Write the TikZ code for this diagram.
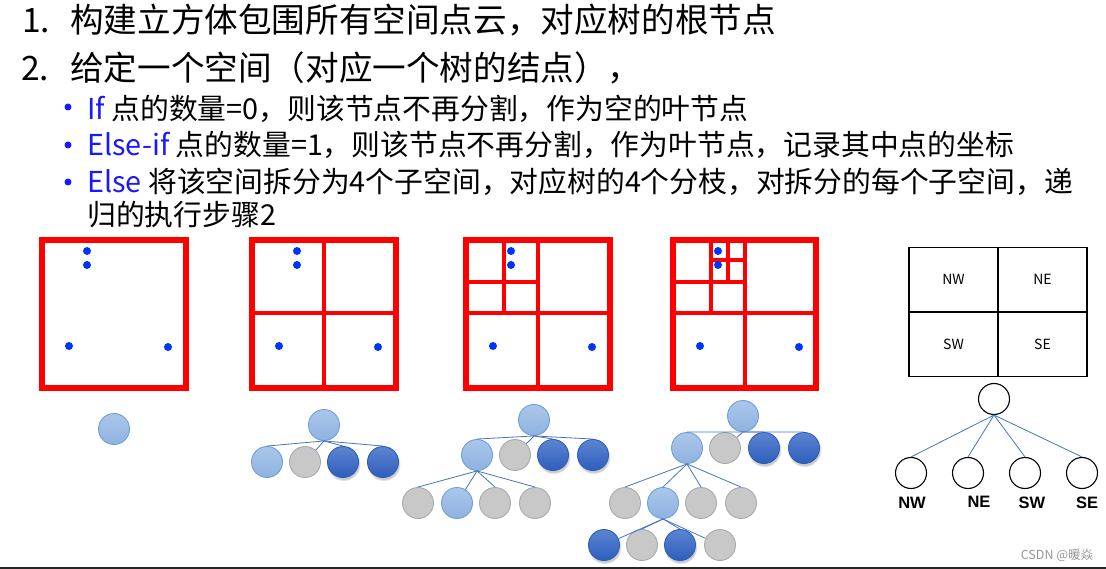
\documentclass[tikz,border=0pt]{standalone}
\usepackage{fontspec}
\setmainfont{Noto Sans CJK SC}
\newfontfamily\lblfont{Liberation Sans}
\usepackage{tikz}
\usetikzlibrary{shadows}
\usepackage{xcolor}
\definecolor{boxred}{RGB}{255,0,0}
\definecolor{ptblue}{RGB}{0,51,255}
\definecolor{kwblue}{RGB}{25,25,255}
\definecolor{edgeblue}{RGB}{68,114,196}
\definecolor{inodetop}{RGB}{170,199,234}
\definecolor{inodebot}{RGB}{143,178,224}
\definecolor{inodeline}{RGB}{110,160,216}
\definecolor{eleaffill}{RGB}{200,200,200}
\definecolor{eleafline}{RGB}{170,170,170}
\definecolor{pleaftop}{RGB}{92,132,208}
\definecolor{pleafbot}{RGB}{46,94,188}
\definecolor{markgray}{RGB}{150,150,150}
\tikzset{
    % Text lines
    headtxt/.style={anchor=base west, inner sep=0pt, font=\fontsize{33.6}{40}\selectfont},
    itemtxt/.style={anchor=base west, inner sep=0pt, font=\fontsize{28.8}{34}\selectfont},
    % Quadtree boxes
    qframe/.style={draw=boxred, line width=6pt},
    qsplit/.style={draw=boxred, line width=3.5pt},
    qpt/.style={fill=ptblue},
    % Trees
    tnode/.style={circle, minimum size=31pt, inner sep=0pt, line width=0.9pt},
    inode/.style={tnode, draw=inodeline, top color=inodetop, bottom color=inodebot},
    eleaf/.style={tnode, draw=eleafline, fill=eleaffill},
    pleaf/.style={tnode, draw=pleafbot, top color=pleaftop, bottom color=pleafbot,
                 circular drop shadow={shadow xshift=0.5pt, shadow yshift=-2pt, opacity=0.45}},
    tedge/.style={draw=edgeblue, line width=0.8pt},
    % Legend
    cell/.style={rectangle, draw=black, line width=1.1pt, minimum width=89pt,
                minimum height=64.5pt, inner sep=0pt, font=\fontsize{14}{16}\selectfont},
    lnode/.style={circle, draw=black, line width=1.1pt, minimum size=31pt, inner sep=0pt, fill=white},
    lname/.style={font=\lblfont\bfseries\fontsize{16.5}{18}\selectfont},
}

\begin{document}
\begin{tikzpicture}[x=1pt, y=-1pt]
\useasboundingbox (0,0) rectangle (1106,569);

\node[headtxt] (n1) at (22,32.6) {1.};
\node[headtxt] (t1) at (70,32.6) {构建立方体包围所有空间点云，对应树的根节点};
\node[headtxt] (n2) at (21,80.6) {2.};
\node[headtxt] (t2) at (70,80.6) {给定一个空间（对应一个树的结点），};

\fill[kwblue] (68,107) circle (3.5);
\fill[kwblue] (68,145) circle (3.5);
\fill[kwblue] (68,182) circle (3.5);
\node[itemtxt] (b1) at (87,120) {\textcolor{kwblue}{If} 点的数量=0，则该节点不再分割，作为空的叶节点};
\node[itemtxt] (b2) at (87,156) {\textcolor{kwblue}{Else-if} 点的数量=1，则该节点不再分割，作为叶节点，记录其中点的坐标};
\node[itemtxt] (b3) at (87,193) {\textcolor{kwblue}{Else} 将该空间拆分为4个子空间，对应树的4个分枝，对拆分的每个子空间，递};
\node[itemtxt] (b3w) at (87,226) {归的执行步骤2};

% quadtree boxes
\draw[qframe] (42,240) rectangle (186,388);
\fill[qpt] (87,251) circle (4) (87,265) circle (4) (69,346) circle (4) (168,347) circle (4);

\draw[qsplit] (324,240) -- (324,388) (252,313) -- (396,313);
\draw[qframe] (252,240) rectangle (396,388);
\fill[qpt] (297,251) circle (4) (297,265) circle (4) (279,346) circle (4) (378,347) circle (4);

\draw[qsplit] (538,240) -- (538,388) (466,313) -- (610,313);
\draw[qsplit] (504,240) -- (504,313) (466,282) -- (538,282);
\draw[qframe] (466,240) rectangle (610,388);
\fill[qpt] (511,251) circle (4) (511,265) circle (4) (493,346) circle (4) (592,347) circle (4);

\draw[qsplit] (745,240) -- (745,388) (673,313) -- (816,313);
\draw[qsplit] (711,240) -- (711,313) (673,282) -- (745,282);
\draw[qsplit] (728,240) -- (728,282) (711,260) -- (745,260);
\draw[qframe] (673,240) rectangle (816,388);
\fill[qpt] (718,251) circle (4) (718,265) circle (4) (700,346) circle (4) (799,347) circle (4);

% trees
\node[inode] (a) at (114,429) {};

\node[inode] (b)  at (324,425) {};
\node[inode] (b1) at (267,462) {};
\node[eleaf] (b2) at (305,462) {};
\node[pleaf] (b3) at (343,462) {};
\node[pleaf] (b4) at (383,462) {};
\draw[tedge] (b.south) -- (b1.north);
\draw[tedge] (b.south) -- (b2);
\draw[tedge] (b.south) -- (b3.north);
\draw[tedge] (b.south) -- (b4.north);

\node[inode] (c)   at (534,420) {};
\node[inode] (c1)  at (477,455) {};
\node[eleaf] (c2)  at (515,455) {};
\node[pleaf] (c3)  at (553,455) {};
\node[pleaf] (c4)  at (593,455) {};
\node[eleaf] (c11) at (418,503) {};
\node[inode] (c12) at (457,503) {};
\node[eleaf] (c13) at (495,503) {};
\node[eleaf] (c14) at (535,503) {};
\draw[tedge] (c.south) -- (c1.north);
\draw[tedge] (c.south) -- (c2);
\draw[tedge] (c.south) -- (c3.north);
\draw[tedge] (c.south) -- (c4.north);
\draw[tedge] (c1.south) -- (c11.north);
\draw[tedge] (c1.south) -- (c12);
\draw[tedge] (c1.south) -- (c13.north);
\draw[tedge] (c1.south) -- (c14.north);

\node[inode] (d)    at (743,416) {};
\node[inode] (d1)   at (687,448) {};
\node[eleaf] (d2)   at (725,448) {};
\node[pleaf] (d3)   at (764,448) {};
\node[pleaf] (d4)   at (804,448) {};
\node[eleaf] (d11)  at (625,503) {};
\node[inode] (d12)  at (663,503) {};
\node[eleaf] (d13)  at (701,503) {};
\node[eleaf] (d14)  at (741,503) {};
\node[pleaf] (d121) at (604,545) {};
\node[eleaf] (d122) at (642,545) {};
\node[pleaf] (d123) at (680,545) {};
\node[eleaf] (d124) at (720,545) {};
\draw[tedge] (d.south) -- (d1.north);
\draw[tedge] (d.south) -- (d2);
\draw[tedge] (d.south) -- (d3.north);
\draw[tedge] (d.south) -- (d4.north);
\draw[tedge] (d1.south) -- (d11.north);
\draw[tedge] (d1.south) -- (d12.north);
\draw[tedge] (d1.south) -- (d13.north);
\draw[tedge] (d1.south) -- (d14.north);
\draw[tedge] (d12.south) -- (d121);
\draw[tedge] (d12.south) -- (d122.north);
\draw[tedge] (d12.south) -- (d123.north);
\draw[tedge] (d12.south) -- (d124);

% legend
\node[cell] (nw) at (953.5,279.75) {NW};
\node[cell] (ne) at (1042.5,279.75) {NE};
\node[cell] (sw) at (953.5,344.25) {SW};
\node[cell] (se) at (1042.5,344.25) {SE};

\node[lnode] (r)  at (994,399) {};
\node[lnode] (q1) at (911,473) {};
\node[lnode] (q2) at (968,473) {};
\node[lnode] (q3) at (1025,473) {};
\node[lnode] (q4) at (1082,473) {};
\draw[tedge] (r.south) -- (q1.north);
\draw[tedge] (r.south) -- (q2.north);
\draw[tedge] (r.south) -- (q3.north);
\draw[tedge] (r.south) -- (q4.north);
\node[lname] (l1) at (912,503) {NW};
\node[lname] (l2) at (979,502) {NE};
\node[lname] (l3) at (1032,503) {SW};
\node[lname] (l4) at (1087,503) {SE};

\node[font=\fontsize{12.5}{14}\selectfont, text=markgray] (mark) at (1057,555) {CSDN @暖焱};
\draw[line width=2pt, black!85] (0,568) -- (1106,568);
\end{tikzpicture}
\end{document}
